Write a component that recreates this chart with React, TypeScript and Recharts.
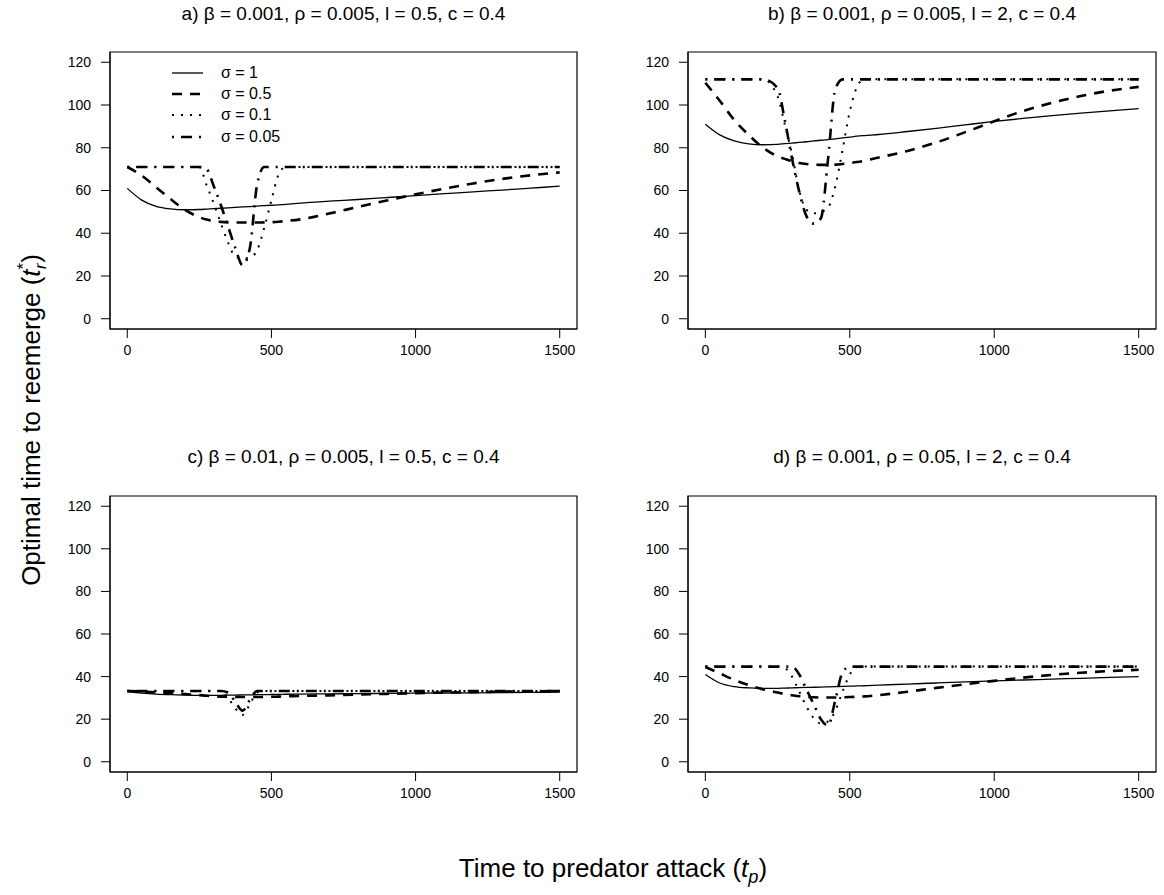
import React from "react";
import { LineChart, Line, XAxis, YAxis, ReferenceArea, Legend } from "recharts";

// time to predator attack (t_p): shared grid, denser where the curves dip
const tp = [0, 50, 100, 150, 200, 250, 275, 300, 325, 350, 375, 400, 425, 450, 475, 500, 525, 550, 600, 700, 800, 900, 1000, 1100, 1200, 1300, 1400, 1500];

// a) beta = 0.001, rho = 0.005, l = 0.5
const aSigma1 = [61, 55.5, 52.6, 51.4, 51, 51.1, 51.3, 51.5, 51.7, 51.9, 52.1, 52.3, 52.5, 52.7, 52.9, 53.1, 53.3, 53.5, 54.1, 55, 55.8, 56.7, 57.6, 58.5, 59.4, 60.2, 61.1, 62];
const aSigma05 = [71, 67, 61.5, 56, 51, 47.5, 46.4, 45.7, 45.3, 45.1, 45, 45, 45, 45, 45.1, 45.2, 45.4, 45.7, 46.5, 49.2, 52.3, 55.3, 58.2, 60.9, 63.3, 65.4, 67.1, 68.5];
const aSigma01 = [71, 71, 71, 71, 71, 71, 62.5, 54, 44.5, 35.5, 29, 28.2, 28.6, 32, 42.5, 55.5, 67.5, 71, 71, 71, 71, 71, 71, 71, 71, 71, 71, 71];
const aSigma005 = [71, 71, 71, 71, 71, 71, 70, 62, 53, 43, 33, 25, 33, 62.5, 71, 71, 71, 71, 71, 71, 71, 71, 71, 71, 71, 71, 71, 71];

// b) beta = 0.001, rho = 0.005, l = 2
const bSigma1 = [91, 86, 83.2, 81.8, 81.4, 81.6, 81.9, 82.2, 82.5, 82.8, 83.2, 83.5, 83.8, 84.2, 84.6, 85, 85.4, 85.7, 86.2, 87.6, 89.1, 90.7, 92.3, 93.7, 95, 96.2, 97.3, 98.3];
const bSigma05 = [110.4, 102, 93, 86, 80, 76, 74.8, 73.7, 72.9, 72.4, 72.1, 72, 72, 72.1, 72.4, 72.8, 73.3, 73.9, 75.4, 78.5, 82.5, 87.3, 92.4, 97.2, 101, 104.2, 106.7, 108.5];
const bSigma01 = [112, 112, 112, 112, 112, 104, 91, 77, 60, 51, 49.3, 50, 52, 62, 79, 97, 108.5, 112, 112, 112, 112, 112, 112, 112, 112, 112, 112, 112];
const bSigma005 = [112, 112, 112, 112, 112, 108, 93, 75, 59.5, 48, 44.5, 47, 75, 107.5, 112, 112, 112, 112, 112, 112, 112, 112, 112, 112, 112, 112, 112, 112];

// c) beta = 0.01, rho = 0.005, l = 0.5
const cSigma1 = [33, 32.3, 31.8, 31.5, 31.3, 31.2, 31.2, 31.2, 31.2, 31.3, 31.3, 31.4, 31.4, 31.5, 31.5, 31.6, 31.6, 31.7, 31.8, 31.9, 32, 32.1, 32.2, 32.3, 32.4, 32.5, 32.6, 32.7];
const cSigma05 = [33.2, 33, 32.6, 32.2, 31.8, 31.3, 31, 30.8, 30.6, 30.5, 30.4, 30.4, 30.4, 30.4, 30.5, 30.5, 30.6, 30.7, 30.9, 31.2, 31.6, 31.9, 32.2, 32.5, 32.7, 32.9, 33.1, 33.2];
const cSigma01 = [33.2, 33.2, 33.2, 33.2, 33.2, 33.2, 33.2, 33.2, 33.2, 30, 25, 22, 27, 32.5, 33.2, 33.2, 33.2, 33.2, 33.2, 33.2, 33.2, 33.2, 33.2, 33.2, 33.2, 33.2, 33.2, 33.2];
const cSigma005 = [33.2, 33.2, 33.2, 33.2, 33.2, 33.2, 33.2, 33.2, 33.2, 32.5, 28, 24, 29, 33.2, 33.2, 33.2, 33.2, 33.2, 33.2, 33.2, 33.2, 33.2, 33.2, 33.2, 33.2, 33.2, 33.2, 33.2];

// d) beta = 0.001, rho = 0.05, l = 2
const dSigma1 = [41, 37, 35.3, 34.7, 34.5, 34.5, 34.6, 34.7, 34.8, 34.9, 35, 35.1, 35.2, 35.3, 35.4, 35.5, 35.6, 35.7, 36, 36.5, 37, 37.5, 38, 38.4, 38.8, 39.2, 39.6, 40];
const dSigma05 = [44.5, 41.5, 38.5, 36, 34, 32.5, 31.8, 31.2, 30.8, 30.5, 30.3, 30.2, 30.2, 30.2, 30.3, 30.4, 30.5, 30.7, 31.3, 32.9, 34.7, 36.4, 38, 39.5, 40.8, 41.8, 42.6, 43.2];
const dSigma01 = [44.7, 44.7, 44.7, 44.7, 44.7, 44.7, 44, 40, 33, 26, 20.5, 18, 19, 24, 33, 41, 44.5, 44.7, 44.7, 44.7, 44.7, 44.7, 44.7, 44.7, 44.7, 44.7, 44.7, 44.7];
const dSigma005 = [44.7, 44.7, 44.7, 44.7, 44.7, 44.7, 44.7, 44.7, 41, 34, 27, 20, 17, 29, 42, 44.7, 44.7, 44.7, 44.7, 44.7, 44.7, 44.7, 44.7, 44.7, 44.7, 44.7, 44.7, 44.7];

const xTicks = [0, 500, 1000, 1500];
const yTicks = [0, 20, 40, 60, 80, 100, 120];
const sigmaLabels = ["σ = 1", "σ = 0.5", "σ = 0.1", "σ = 0.05"];

const FONT = '"Liberation Sans", Arial, Helvetica, sans-serif';
const X_DOMAIN: [number, number] = [-60, 1560];
const Y_DOMAIN: [number, number] = [-4.8, 124.8];

// R lty 1..4
const lineStyles = [
  { width: 1.3, dash: undefined as string | undefined },
  { width: 2.6, dash: "10 8" },
  { width: 2, dash: "2 7" },
  { width: 2.6, dash: "2 7 11 7" },
];

const panels = [
  { title: "a) β = 0.001, ρ = 0.005, l = 0.5, c = 0.4", series: [aSigma1, aSigma05, aSigma01, aSigma005], left: 0, top: 40, width: 590, height: 329, right: 13, titleTop: 3, legend: true },
  { title: "b) β = 0.001, ρ = 0.005, l = 2, c = 0.4", series: [bSigma1, bSigma05, bSigma01, bSigma005], left: 578, top: 40, width: 586, height: 329, right: 8, titleTop: 3, legend: false },
  { title: "c) β = 0.01, ρ = 0.005, l = 0.5, c = 0.4", series: [cSigma1, cSigma05, cSigma01, cSigma005], left: 0, top: 484, width: 590, height: 328, right: 13, titleTop: 446, legend: false },
  { title: "d) β = 0.001, ρ = 0.05, l = 2, c = 0.4", series: [dSigma1, dSigma05, dSigma01, dSigma005], left: 578, top: 484, width: 586, height: 328, right: 8, titleTop: 446, legend: false },
];

function SigmaLegend() {
  return (
    <div style={{ fontFamily: FONT, fontSize: 16, color: "#000" }}>
      {sigmaLabels.map((label, i) => (
        <div key={label} style={{ display: "flex", alignItems: "center", height: 21.3 }}>
          <svg width={34} height={10} style={{ marginRight: 15 }}>
            <line x1={0} y1={5} x2={31} y2={5} stroke="#000" strokeWidth={lineStyles[i].width} strokeDasharray={lineStyles[i].dash} />
          </svg>
          <span>{label}</span>
        </div>
      ))}
    </div>
  );
}

function Panel({ p }: { p: (typeof panels)[number] }) {
  const data = tp.map((t, j) => ({
    t,
    s0: p.series[0][j],
    s1: p.series[1][j],
    s2: p.series[2][j],
    s3: p.series[3][j],
  }));
  const plotLeft = p.left + 110;
  const plotWidth = p.width - 110 - p.right;
  return (
    <>
      <div
        style={{
          position: "absolute",
          left: plotLeft,
          top: p.titleTop,
          width: plotWidth,
          textAlign: "center",
          fontSize: 19,
          lineHeight: "22px",
          whiteSpace: "nowrap",
        }}
      >
        {p.title}
      </div>
      <div style={{ position: "absolute", left: p.left, top: p.top }}>
        <LineChart width={p.width} height={p.height} data={data} margin={{ top: 12, right: p.right, left: 0, bottom: 0 }}>
          <XAxis
            dataKey="t"
            type="number"
            domain={X_DOMAIN}
            ticks={xTicks}
            interval={0}
            allowDataOverflow
            height={40}
            tickSize={9}
            tickMargin={7}
            stroke="#000"
            tick={{ fontSize: 14, fill: "#000" }}
          />
          <YAxis
            type="number"
            domain={Y_DOMAIN}
            ticks={yTicks}
            interval={0}
            allowDataOverflow
            width={110}
            tickSize={9}
            tickMargin={10}
            stroke="#000"
            tick={{ fontSize: 14, fill: "#000" }}
          />
          <ReferenceArea x1={X_DOMAIN[0]} x2={X_DOMAIN[1]} y1={Y_DOMAIN[0]} y2={Y_DOMAIN[1]} fill="none" stroke="#000" strokeWidth={1.2} ifOverflow="visible" />
          {lineStyles.map((s, i) => (
            <Line
              key={i}
              dataKey={`s${i}`}
              name={sigmaLabels[i]}
              type="monotone"
              stroke="#000"
              strokeWidth={s.width}
              strokeDasharray={s.dash}
              dot={false}
              activeDot={false}
              isAnimationActive={false}
            />
          ))}
          {p.legend && (
            <Legend
              layout="vertical"
              align="center"
              verticalAlign="middle"
              content={() => <SigmaLegend />}
              wrapperStyle={{ left: 172, top: 22, width: 160 }}
            />
          )}
        </LineChart>
      </div>
    </>
  );
}

export default function App() {
  return (
    <div
      style={{
        position: "absolute",
        left: 0,
        top: 0,
        width: 1164,
        height: 895,
        background: "#fff",
        fontFamily: FONT,
        color: "#000",
        overflow: "hidden",
      }}
    >
      {panels.map((p) => (
        <Panel key={p.title} p={p} />
      ))}
      <div
        style={{
          position: "absolute",
          left: 31 - 250,
          top: 420 - 18,
          width: 500,
          height: 36,
          lineHeight: "36px",
          textAlign: "center",
          fontSize: 26,
          transform: "rotate(-90deg)",
          whiteSpace: "nowrap",
        }}
      >
        Optimal time to reemerge (<i>t</i>
        <span style={{ display: "inline-flex", flexDirection: "column", fontSize: "0.65em", lineHeight: 1, verticalAlign: "middle" }}>
          <span>*</span>
          <i>r</i>
        </span>
        )
      </div>
      <div
        style={{
          position: "absolute",
          left: 613 - 250,
          top: 868 - 18,
          width: 500,
          height: 36,
          lineHeight: "36px",
          textAlign: "center",
          fontSize: 26,
          whiteSpace: "nowrap",
        }}
      >
        Time to predator attack (<i>t</i>
        <sub style={{ fontSize: "0.7em" }}>
          <i>p</i>
        </sub>
        )
      </div>
    </div>
  );
}
